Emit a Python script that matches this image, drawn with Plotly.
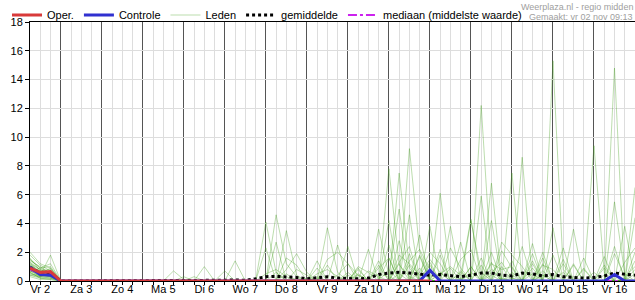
import plotly.graph_objects as go
import pandas as pd

# time axis: 6-hourly steps from vr 2 nov 06:00 up to za 17 nov 00:00
tijd = pd.date_range("2012-11-02 06:00", periods=60, freq="6h")
dag_midden = pd.date_range("2012-11-02 12:00", periods=15, freq="D")
dag_labels = ["Vr 2", "Za 3", "Zo 4", "Ma 5", "Di 6", "Wo 7", "Do 8", "Vr 9",
              "Za 10", "Zo 11", "Ma 12", "Di 13", "Wo 14", "Do 15", "Vr 16"]

# ensemble members (mm per 6 h)
lid_01 = [1.2,0.5,0.4, 0,0,0,0, 0,0,0,0, 0,0,0,0.7, 0.1,0,0,0, 0,0,0,0, 4.1,0.6,0,0, 0,0.2,0,0, 0,0.4,0.1,0, 7.8,1.1,0.3,0, 0,0.6,0,0.2, 0,12.2,0.9,0, 0.2,0,0,0.4, 0,0,0.3,0, 0,0,0.5,0, 0]
lid_02 = [0.8,0.3,0.2, 0,0,0,0, 0,0,0,0, 0,0,0,0, 0,0,1.0,0, 0,1.4,0,0, 0,4.6,1.2,0.3, 0,0,0,0, 0,0,0,0.5, 0.3,0,9.2,2.1, 0,0,0,0, 4.2,0.6,0,0.2, 0,0,0,0, 15.3,0.8,0,0, 0,0,0,0.2, 0]
lid_03 = [1.5,0.9,0.6, 0,0,0,0, 0,0,0,0, 0,0,0,0, 0,0.3,0,0, 0.7,0,0,0, 2.3,0,3.5,0.4, 0,0,3.7,0.6, 0,0,0,0, 0,7.5,0.9,0, 0,6.1,0.4,0, 0,0,0.6,1.3, 0.2,0,0,0, 0,0,0,0, 9.4,0.6,0,0, 0]
lid_04 = [0.6,0.2,0.1, 0,0,0,0, 0,0,0,0, 0,0,0,0, 0,0,0,0, 0,0,0,0, 0,2.7,0,0.2, 0,1.4,0,2.5, 0,0,0,3.6, 0.4,5.0,0,0, 0,0,0,2.7, 0,5.9,0,0, 7.5,0,0,0, 0,2.3,0,0, 0,0,5.5,0.5, 0]
lid_05 = [1.0,0.4,1.8, 0,0,0,0, 0,0,0,0, 0,0,0,0, 0,0,0,0, 0,0,0,0, 0,0,1.6,1.1, 0,0,0,0, 2.4,0,2.2,0, 4.2,0,0,3.2, 0,0,0,0, 0,0,6.8,0, 0,8.6,0,0, 3.7,0,0,0, 0,0,0,3.8, 0]
lid_06 = [0.9,0.7,0.8, 0,0,0,0, 0,0,0,0, 0,0,0,0, 0,0,0,0, 0,0,0,0, 0,0,0,0, 0,0.9,0,0, 0,0,0,0, 0,0,4.6,0, 3.8,0,3.8,0, 0,0,4.2,0, 0,2.4,0,0, 0,0,3.6,0, 0,0,0,0, 6.5]
lid_07 = [1.3,0.8,0.5, 0,0,0,0, 0,0,0,0, 0,0,0,0, 0,0,0,0, 0,0,0,0, 0,0,0,0, 0,0.3,0,0, 0,0,0,0, 0,0,0,0, 0,0.5,1.0,0.4, 4.3,0,0,0, 0.6,0,0,0, 0,0,0,1.6, 0,0,14.8,0, 4.4]
lid_08 = [0.5,0.3,0.3, 0,0,0,0, 0,0,0,0, 0,0,0,0, 0.3,0,0,0, 0,0,0,0, 0,0,0,0, 0,0.5,0.8,0.3, 0,1.0,0.6,0, 0,1.8,1.2,0.4, 1.5,0.6,0,0, 0,0,1.2,0.8, 1.0,0,0,0.4, 0,0.6,0,0, 0,1.1,0,0, 0]
lid_09 = [0.7,0.5,0.9, 0,0,0,0, 0,0,0,0, 0,0,0,0, 0,0,0,0, 0,0,0,0, 0.5,0.8,0.3,0, 0,0,0,0, 0.6,0,0,0.9, 1.6,0,0,0.6, 2.0,1.2,0,0, 0,0,0,2.7, 1.8,1.0,0,0, 0,0,0,0, 0,0,1.9,0.3, 1.0]
lid_10 = [1.8,1.1,0.7, 0,0,0,0, 0,0,0,0, 0,0,0,0, 0,0,0,0, 0,0,0,0, 0,0,0.5,0, 0,0,0,0, 0,0,0,0, 0,2.8,0,0, 0,0,0,1.5, 2.2,0,0,0, 0,0,0,1.1, 0.8,0,0,0, 0,0,0,0, 2.0]
lid_11 = [0.4,0.2,0.2, 0,0,0,0, 0,0,0,0, 0,0,0,0, 0,0,0,0, 0,0,0,0, 0,0,0,0, 0,0,0,0, 0,0,0.7,0.3, 0,0,0,0, 0,0,0,0, 1.0,0,0.4,0, 0,0,0,0, 0,0,0,0, 0.6,0,0,0, 0]
lid_12 = [1.1,0.6,0.6, 0,0,0,0, 0,0,0,0, 0,0,0,0, 0,0,0,0, 0,0,0,0, 0,0.6,0,0, 0.2,0,0,0, 0,0,0,1.4, 0,0.5,0,0, 0,0,0.9,0, 0,0,0,0, 0.4,0,1.2,0, 0,0,0,0, 0,0.4,0,0, 0]
lid_13 = [0.3,0.1,0.1, 0,0,0,0, 0,0,0,0, 0,0,0,0, 0,0,0,0, 0,0,0,0, 0,0,0,0, 0,0,0,0, 0,0,0,0, 0.8,0,0,0, 0,0,0,0, 0,0,0,0, 0,0,0,0.7, 0,0,0,0, 0,0,0,0, 0]
lid_14 = [0.9,0.4,0.3, 0,0,0,0, 0,0,0,0, 0,0,0,0, 0,0,0,0, 0,0,0,0, 0,0,0,0, 0,0,0,0.4, 1.2,0.4,0,0, 0,0,1.9,0, 0,0,0,0, 0,1.6,0,0, 0,0,0,0, 0,1.2,0,0, 0,0,0,0, 0]
lid_15 = [1.6,0.7,0.4, 0,0,0,0, 0,0,0,0, 0,0,0,0, 0,0,0,0, 0,0,0,0, 0,0,0,0, 0,0,0,0, 0,0,0,0, 0,0,0,0.9, 0,0,0,0, 0,0,0,0, 0,0,0,0, 0,0,0,0, 0,0,0,0, 0]
lid_16 = [0.6,0.9,1.2, 0,0,0,0, 0,0,0,0, 0,0,0,0, 0,0,0,0, 0,0,0,0, 0,0,0,0.8, 0.4,0,0,0, 0,0,0,0, 0,0,0,0, 0,1.8,0,0, 0,0,0,0, 0,0,0,1.6, 0,0,0,0, 0,0,2.4,0, 0]
lid_17 = [1.4,1.0,0.5, 0,0,0,0, 0,0,0,0, 0,0,0,0, 0,0,0,0, 0,0,0,0, 0,0,0,0, 0,0,0,0, 0,0.8,0,0, 0,0,0,0, 0,0,0,0, 0.6,0,0,0, 0,0,0,0, 0,0,0,0, 0,0,0,0, 0]
lid_18 = [0.8,0.5,0.7, 0,0,0,0, 0,0,0,0, 0,0,0,0, 0,0,0,0, 0,0,0,0, 0,0,0,0, 0,0,0,0, 0,0,0,0, 0,0,1.1,0, 0,0,0,0, 0,0,0,1.0, 0,0,0,0, 0,0,0,0, 0,0,0,0, 0]
lid_19 = [2.0,1.2,0.9, 0,0,0,0, 0,0,0,0, 0,0,0,0, 0,0,0,0, 0,0,0,0, 0,0,0,0, 0,0,0,0, 0,0,0,0, 0,0,0,0, 0,0,0,0, 0,0,0,0, 0,0,0.5,0, 0,0,0,0, 0,0,0,0, 0]
lid_20 = [0.5,0.4,0.3, 0,0,0,0, 0,0,0,0, 0,0,0,0, 0,0,0,0, 0,0,0,0, 0,0,0,0, 0,0,0,0, 0,0,0,0, 0,0,0,0, 0,0,0,0.6, 0,0,0,0, 0,0,0,0, 0,0,0,0, 0,0,0,0, 0]
lid_21 = [1.0,0.6,0.4, 0,0,0,0, 0,0,0,0, 0,0,0,0, 0,0,0,0, 0,0,0,0, 0,0,0,0, 0,0,1.5,2.0, 1.2,0,0,0, 0,0,1.4,2.2, 0.8,0,0,0, 0,0,0,0, 1.4,0,0.9,0, 0,0,0,0, 0,0,0,1.3, 2.3]
lid_22 = [0.7,0.3,0.5, 0,0,0,0, 0,0,0,0, 0,0,0,0, 0,0,0,0, 0,0,0,0, 0,0,0,0, 0,0,0,0, 0,0,0,0, 2.5,0,0,0, 0,2.2,0,0.7, 0,0,2.0,0, 0,0,1.9,0, 0,0,1.1,0, 0,0,0,0, 0]
lid_23 = [1.2,0.8,0.6, 0,0,0,0, 0,0,0,0, 0,0,0,0, 0,0,0,0, 0,0,0,0, 0,0,0,0, 0,0,0,0, 0,0.5,0,1.1, 0,0,0,0, 1.3,0,0,0, 0,0,0.8,0, 0,0,0,0, 1.8,0,0,0, 0,0,0,0, 0]
lid_24 = [0.6,0.2,0.2, 0,0,0,0, 0,0,0,0, 0,0,0,0, 0,0,0,0, 0,0,0,0, 0,0,0,0, 0,0,0,0, 0,0,0,0, 0,0,0,1.8, 0,0,0,0, 0,1.1,0,0, 0,0,0,0, 0,0,0,0.9, 0,0,0,0, 0.8]
lid_25 = [1.5,0.9,1.0, 0,0,0,0, 0,0,0,0, 0,0,0,0, 0,0,0,0, 0,0,0,0, 0,0,0,0, 0,0,0,0, 0,0,0,0, 0,1.2,0,0, 0,0,0,0, 0,0,0,0, 0,0,2.6,0, 0,0,0,0, 0,0,0,0, 0]
lid_26 = [0.9,0.6,0.4, 0,0,0,0, 0,0,0,0, 0,0,0,0, 0,0,0,0, 0,0,0,0, 0,0,0.8,1.9, 0.6,0,0,0, 0,0,0,0, 0,1.3,2.4,0, 0,0,0,0, 0,0,0,2.1, 0.9,0,0,0, 0,1.5,0,0, 0,0,0,0, 0.5]
lid_27 = [1.1,0.7,0.6, 0,0,0,0, 0,0,0,0, 0,0,0,0, 0,0,0,0, 0,0,0,0, 0,0,0,0, 0,0,1.1,0, 0,0.9,0,0, 0,0,0,1.7, 0,0,0,0, 0,0,1.3,0, 0,0,0,1.2, 0,0,0,0, 0,0.9,0,0, 0]
lid_28 = [0.4,0.3,0.6, 0,0,0,0, 0,0,0,0, 0,0,0,0, 0,0,0,0, 0,0,0,0, 0,0,0,0, 0,0,0,0, 0,0,0,0, 1.6,0,0,0, 0,0,2.3,0.9, 0,0,0,0, 0,0,1.4,0, 0,0,0,0.8, 0,0,0,0, 1.4]
lid_29 = [1.3,0.5,0.3, 0,0,0,0, 0,0,0,0, 0,0,0,0, 0,0,0,0, 0,0,0,0, 0,0,0,0, 0,0,0,0, 0.4,0,0,0, 0,0,0,0, 1.1,0,0,0, 0,0,0,0, 0,0,0,2.0, 0,0,0,0, 0,1.7,0,0, 0]
lid_30 = [0.7,0.4,0.4, 0,0,0,0, 0,0,0,0, 0,0,0,0, 0,0,0,0, 0,0,0,0, 0,0,0,0, 0,0,0,0, 0,0,0,0, 0,0,0,0, 0,0,0,0, 1.0,0,0,0, 0,0,0,0, 0,0,1.2,0, 0,0,0,0, 0]

leden = [lid_01, lid_02, lid_03, lid_04, lid_05, lid_06, lid_07, lid_08, lid_09, lid_10,
         lid_11, lid_12, lid_13, lid_14, lid_15, lid_16, lid_17, lid_18, lid_19, lid_20,
         lid_21, lid_22, lid_23, lid_24, lid_25, lid_26, lid_27, lid_28, lid_29, lid_30]

gemiddelde = [0.95,0.55,0.55, 0,0,0,0, 0,0,0,0, 0,0,0,0.02, 0.01,0.02,0.04,0.01, 0.05,0.08,0.05,0.15, 0.3,0.32,0.3,0.25, 0.15,0.2,0.3,0.2, 0.15,0.15,0.2,0.45, 0.55,0.6,0.55,0.5, 0.4,0.45,0.35,0.3, 0.4,0.55,0.55,0.4, 0.35,0.55,0.5,0.35, 0.45,0.3,0.25,0.2, 0.25,0.35,0.55,0.45, 0.4]
mediaan = [0.8,0.5,0.5, 0,0,0,0, 0,0,0,0, 0,0,0,0, 0,0,0,0, 0,0,0,0, 0,0,0,0, 0,0,0,0, 0,0,0,0, 0,0,0,0, 0,0,0,0, 0,0,0,0, 0,0,0,0, 0,0,0,0, 0,0,0,0, 0]
controle = [0.95,0.45,0.4, 0,0,0,0, 0,0,0,0, 0,0,0,0, 0,0,0,0, 0,0,0,0, 0,0,0,0, 0,0,0,0, 0,0,0,0, 0,0,0,0, 0.75,0,0,0, 0,0,0,0, 0,0,0,0, 0,0,0,0, 0,0,0.45,0, 0]
oper = [0.9,0.6,0.65, 0,0,0,0, 0,0,0,0, 0,0,0,0, 0,0,0,0, 0,0,0,0, 0,0,0,0, 0,0,0,0, 0,0,0,0, 0,0,0,0, 0]

for naam, reeks in [("gemiddelde", gemiddelde), ("mediaan", mediaan), ("controle", controle)] + \
        [("lid_%02d" % (k + 1), r) for k, r in enumerate(leden)]:
    assert len(reeks) == 60, (naam, len(reeks))

FONT = "Liberation Sans, Arial, sans-serif"
fig = go.Figure()

for k, reeks in enumerate(leden):
    fig.add_trace(go.Scatter(
        x=tijd, y=reeks, mode="lines", name="Leden", legendgroup="leden",
        showlegend=(k == 0), legendrank=3,
        line=dict(color="rgba(70,160,30,0.36)", width=1), hoverinfo="skip"))

fig.add_trace(go.Scatter(x=tijd, y=mediaan, mode="lines", name="mediaan (middelste waarde)",
                         legendrank=5, line=dict(color="#cc22ee", width=2, dash="dashdot")))
fig.add_trace(go.Scatter(x=tijd, y=gemiddelde, mode="lines", name="gemiddelde",
                         legendrank=4, line=dict(color="#000000", width=3, dash="dot")))
fig.add_trace(go.Scatter(x=tijd, y=controle, mode="lines", name="Controle",
                         legendrank=2, line=dict(color="#3030d0", width=3)))
fig.add_trace(go.Scatter(x=tijd[:len(oper)], y=oper, mode="lines", name="Oper.",
                         legendrank=1, line=dict(color="#d83a3a", width=3)))
# carrier for the day-label axis
fig.add_trace(go.Scatter(x=[tijd[0]], y=[None], xaxis="x2", showlegend=False, hoverinfo="skip"))

fig.update_layout(
    width=635, height=300,
    margin=dict(l=30, r=0, t=20, b=19),
    paper_bgcolor="white", plot_bgcolor="white",
    font=dict(family=FONT, size=11, color="#000"),
    showlegend=True,
    legend=dict(orientation="h", x=-0.038, xanchor="left", y=1.027, yanchor="middle",
                font=dict(size=11), bgcolor="rgba(0,0,0,0)", traceorder="normal",
                itemwidth=30),
    xaxis=dict(
        type="date", range=[tijd[0], tijd[-1]],
        tickmode="linear", tick0="2012-11-03 00:00", dtick=86400000,
        showticklabels=False, ticks="outside", ticklen=3, tickcolor="#000",
        showgrid=True, gridcolor="#555555", gridwidth=1,
        minor=dict(tickmode="linear", tick0="2012-11-02 00:00", dtick=21600000,
                   showgrid=True, gridcolor="#dddddd", gridwidth=1,
                   ticks="outside", ticklen=3, tickcolor="#000"),
        showline=True, linecolor="#000", linewidth=1, mirror=True, zeroline=False,
    ),
    xaxis2=dict(
        type="date", overlaying="x", matches="x", anchor="y", side="bottom",
        tickmode="array", tickvals=dag_midden, ticktext=dag_labels,
        showgrid=False, ticks="", showline=False, zeroline=False,
        tickfont=dict(size=11, color="#000"),
    ),
    yaxis=dict(
        range=[0, 18], tickmode="linear", tick0=0, dtick=2,
        showgrid=True, gridcolor="#dddddd", gridwidth=1,
        ticks="outside", ticklen=4, tickcolor="#000",
        showline=True, linecolor="#000", linewidth=1, zeroline=False,
        tickfont=dict(size=11, color="#000"),
    ),
)

fig.add_annotation(text="Weerplaza.nl - regio midden", xref="paper", yref="paper",
                   x=1, xanchor="right", y=1.057, yanchor="middle", showarrow=False,
                   font=dict(size=9, color="#a0a0a0"))
fig.add_annotation(text="Gemaakt: vr 02 nov 09:13", xref="paper", yref="paper",
                   x=1, xanchor="right", y=1.019, yanchor="middle", showarrow=False,
                   font=dict(size=9, color="#a0a0a0"))

fig.write_html("out.html")
